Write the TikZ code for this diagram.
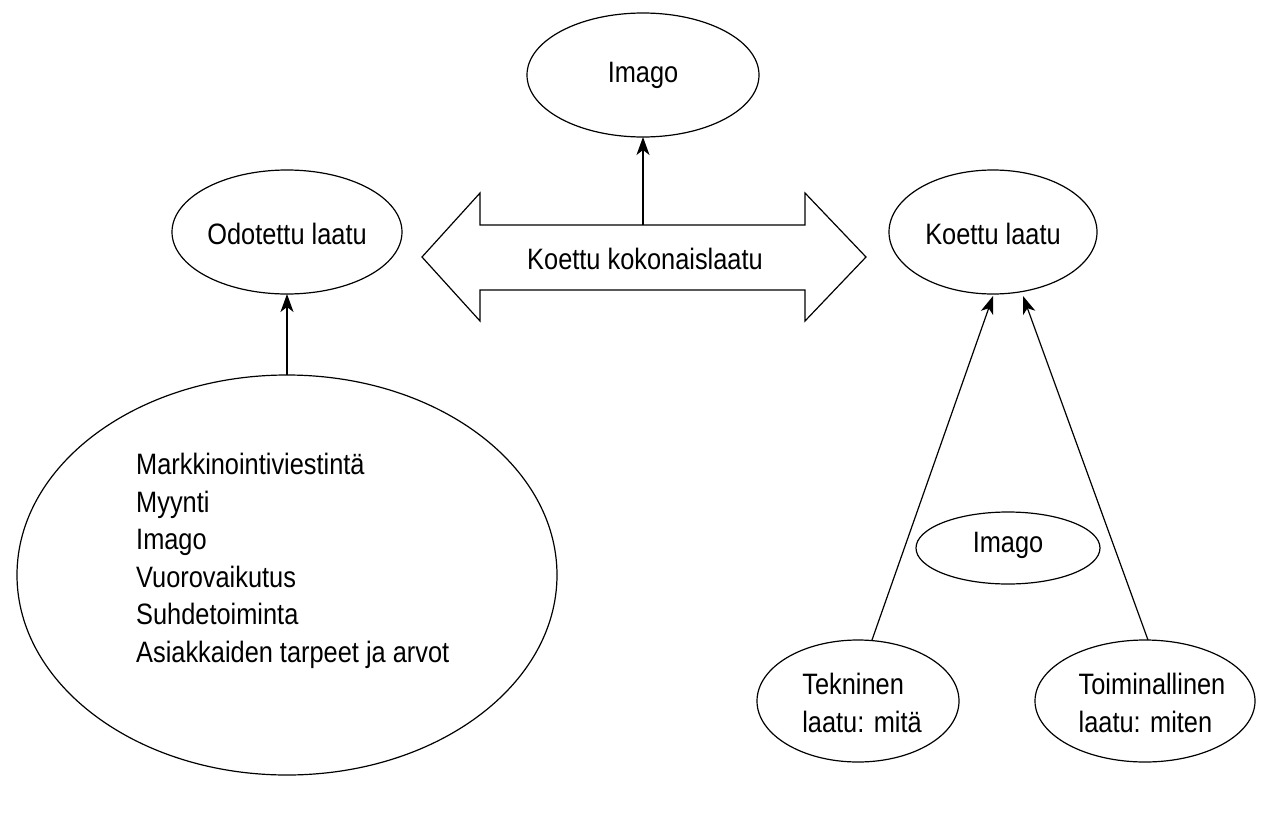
\documentclass[tikz,border=0pt]{standalone}
\usepackage{fontspec}
\setmainfont{Liberation Sans}[FakeStretch=0.86]
\usetikzlibrary{arrows.meta}
\begin{document}
\begin{tikzpicture}[x=1pt,y=-1pt,
  lab/.style={font=\fontsize{29.5}{37.6}\selectfont},
  arr/.style={line width=1.2pt,-{Stealth[length=18pt,width=13pt,inset=5pt]}}]
\useasboundingbox (0,0) rectangle (1280,822);
\tikzset{e/.style={draw,line width=1.2pt}}
\draw[e] (643,75) ellipse [x radius=116,y radius=62];
\node[lab] (imt) at (643,75) {Imago};
\draw[e] (287,232) ellipse [x radius=115,y radius=62];
\node[lab] (odo) at (287,234) {Odotettu laatu};
\draw[e] (993,232) ellipse [x radius=104,y radius=62];
\node[lab] (koe) at (993,234) {Koettu laatu};
\draw[e] (287,575) ellipse [x radius=270,y radius=200];
\node[lab,align=left,anchor=north west,inner sep=0pt] (big) at (136,453) {Markkinointiviestintä\\Myynti\\Imago\\Vuorovaikutus\\Suhdetoiminta\\Asiakkaiden tarpeet ja arvot};
\draw[e] (1008,548) ellipse [x radius=92,y radius=36];
\node[lab] (ims) at (1008,545) {Imago};
\draw[e] (858,701) ellipse [x radius=101,y radius=61];
\node[lab,align=left] (tek) at (862,703) {Tekninen\\laatu: mitä};
\draw[e] (1145,701) ellipse [x radius=110,y radius=61];
\node[lab,align=left] (toi) at (1152,703) {Toiminallinen\\laatu: miten};
% double arrow
\draw[line width=1.2pt,line join=miter] (422,257) -- (480,193) -- (480,225) -- (805,225) -- (805,193) -- (866,257) -- (805,321) -- (805,290) -- (480,290) -- (480,321) -- cycle;
\node[lab] (kok) at (645,259) {Koettu kokonaislaatu};
\coordinate (c1) at (643,225);
\coordinate (c2) at (643,137);
\draw[arr] (c1) -- (c2);
\coordinate (b1) at (287,375);
\coordinate (b2) at (287,294);
\draw[arr] (b1) -- (b2);
\coordinate (t1) at (872,640);
\coordinate (t2) at (993,296);
\draw[arr] (t1) -- (t2);
\coordinate (m1) at (1148,640);
\coordinate (m2) at (1023,296);
\draw[arr] (m1) -- (m2);
\end{tikzpicture}
\end{document}
